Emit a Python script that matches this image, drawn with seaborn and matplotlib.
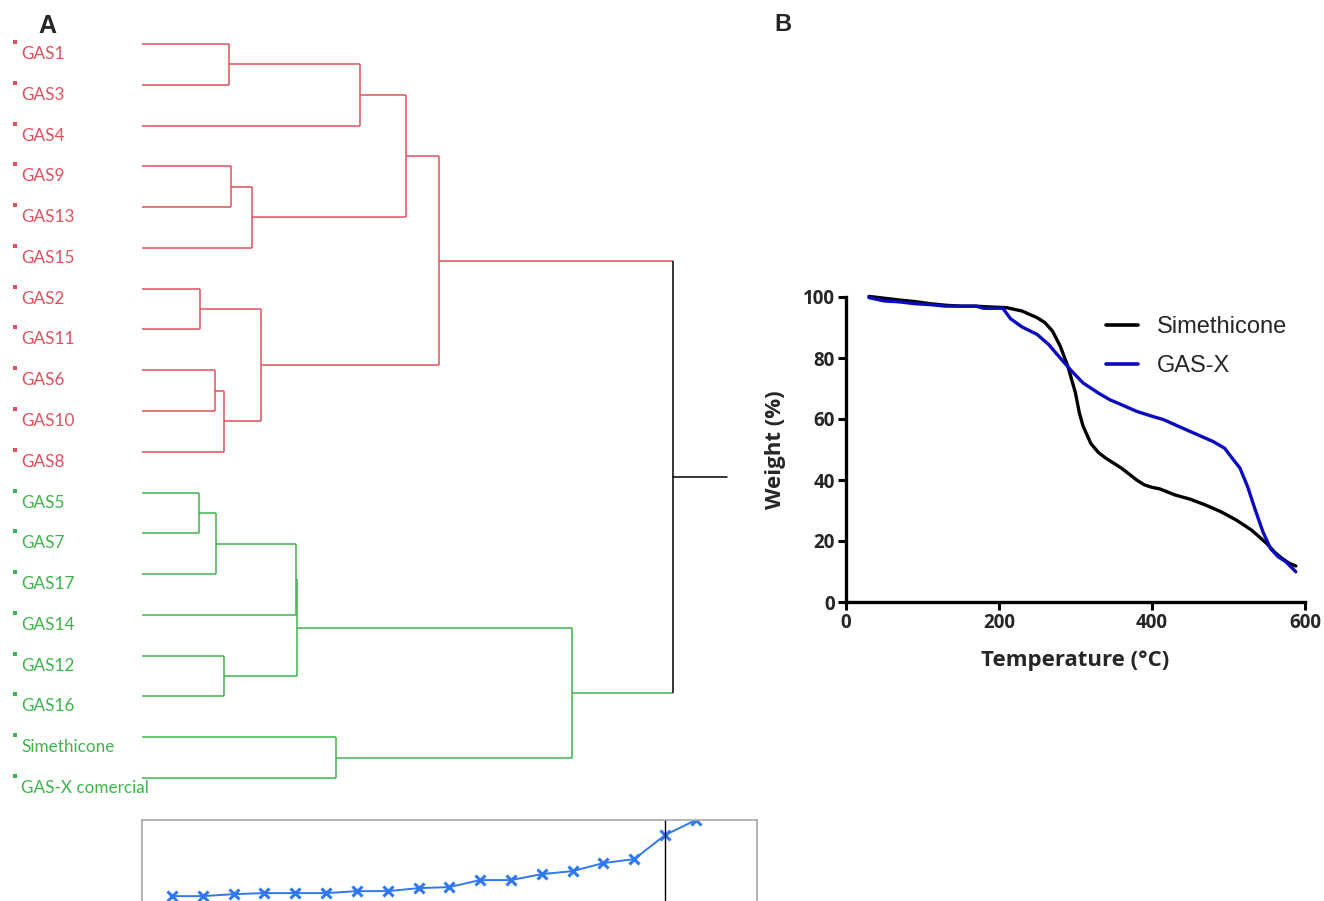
import matplotlib
matplotlib.use("Agg")
import matplotlib.pyplot as plt
import matplotlib.transforms as mtransforms
import numpy as np
import pandas as pd
import seaborn as sns

# ---------------- data ----------------
leaves = ["GAS1", "GAS3", "GAS4", "GAS9", "GAS13", "GAS15", "GAS2", "GAS11", "GAS6",
          "GAS10", "GAS8", "GAS5", "GAS7", "GAS17", "GAS14", "GAS12", "GAS16",
          "Simethicone", "GAS-X comercial"]
leaf_groups = ["red"] * 11 + ["green"] * 8

merge_ids = ["m1", "m2", "m3", "m4", "m5", "m6", "m7", "m8", "m9", "m10",
             "m11", "m12", "m13", "m14", "m15", "m16", "m17", "root"]
merge_left = ["GAS1", "m1", "GAS9", "m3", "m2", "GAS2", "GAS6", "m7", "m6", "m5",
              "GAS5", "m11", "m12", "GAS12", "m13", "Simethicone", "m15", "m10"]
merge_right = ["GAS3", "GAS4", "GAS13", "GAS15", "m4", "GAS11", "GAS10", "GAS8", "m8", "m9",
               "GAS7", "GAS17", "GAS14", "GAS16", "m14", "GAS-X comercial", "m16", "m17"]
merge_height = [16.4, 41.1, 16.8, 20.7, 49.7, 10.9, 13.7, 15.4, 22.4, 55.9,
                10.7, 13.9, 29.0, 15.4, 29.2, 36.5, 81.0, 100.0]
root_stem = 110.2

# level plot (inset)
level_step = list(range(1, 19))
level_value = [3.8, 3.8, 6.3, 7.6, 7.6, 7.6, 10.1, 10.1, 13.9, 15.2,
               24.1, 24.1, 31.6, 35.4, 45.6, 50.6, 81.0, 100.0]
cut_step = 17

# TGA curves
sim_T = [30, 50, 70, 90, 110, 130, 150, 170, 190, 210, 230, 250, 260, 270, 280, 290,
         300, 305, 310, 320, 330, 340, 360, 380, 390, 400, 410, 430, 450, 470, 490,
         510, 530, 550, 560, 570, 580, 588]
sim_W = [100.2, 99.6, 99.0, 98.5, 97.8, 97.3, 97.0, 97.0, 96.7, 96.5, 95.4, 93.2, 91.6,
         88.8, 83.9, 77.3, 68.5, 62.0, 57.6, 52.0, 49.0, 47.1, 43.9, 40.0, 38.4, 37.6,
         37.1, 35.1, 33.7, 31.8, 29.6, 26.9, 23.6, 19.2, 16.4, 14.3, 12.6, 11.8]
gas_T = [30, 50, 70, 90, 110, 130, 170, 180, 205, 215, 230, 250, 265, 280, 295, 310,
         330, 345, 360, 380, 400, 415, 440, 460, 480, 495, 505, 515, 525, 535, 545,
         555, 565, 575, 588]
gas_W = [99.8, 98.7, 98.4, 97.8, 97.5, 97.0, 97.0, 96.3, 96.3, 92.9, 90.2, 87.7, 84.4,
         80.0, 75.7, 71.8, 68.5, 66.3, 64.7, 62.5, 60.9, 59.8, 57.0, 54.8, 52.6, 50.4,
         47.1, 43.9, 37.8, 30.2, 23.0, 17.5, 14.8, 13.2, 9.9]

xticks_B = [0, 200, 400, 600]
yticks_B = [0, 20, 40, 60, 80, 100]

# ---------------- style ----------------
sns.set_style("white")
plt.rcParams["font.family"] = ["Liberation Sans", "DejaVu Sans"]

RED = "#E0515F"
GREEN = "#3DB54A"
COL = {"red": RED, "green": GREEN, "black": "black"}

W, H = 1324, 901
fig = plt.figure(figsize=(W / 100, H / 100), dpi=100)

# ---------------- dendrogram ----------------
axd = fig.add_axes([142 / W, 1 - 798 / H, 598 / W, 774 / H])
axd.set_xlim(0, 112.6)
axd.set_ylim(18.49, -0.49)
axd.axis("off")

pos = {}
col = {}
for i, (name, g) in enumerate(zip(leaves, leaf_groups)):
    pos[name] = (0.0, float(i))
    col[name] = g
for mid, l, r, h in zip(merge_ids, merge_left, merge_right, merge_height):
    yl, yr = pos[l][1], pos[r][1]
    c = col[l] if col[l] == col[r] else "black"
    if mid == "root":
        c = "black"
    for child in (l, r):
        axd.plot([pos[child][0], h], [pos[child][1]] * 2, color=COL[col[child]], lw=1.1,
                 solid_capstyle="butt")
    axd.plot([h, h], [yl, yr], color=COL[c], lw=1.1, solid_capstyle="butt")
    pos[mid] = (h, (yl + yr) / 2)
    col[mid] = c
axd.plot([pos["root"][0], root_stem], [pos["root"][1]] * 2, color="black", lw=1.1)

# leaf labels
blend = mtransforms.blended_transform_factory(fig.transFigure, axd.transData)
for i, (name, g) in enumerate(zip(leaves, leaf_groups)):
    axd.annotate(name, xy=(21 / W, i), xycoords=blend, xytext=(0, -10.8),
                 textcoords="offset points", va="baseline", ha="left",
                 color=COL[g], fontsize=12.3,
                 family=["Lato", "Liberation Sans", "DejaVu Sans"],
                 annotation_clip=False)
    axd.plot([14.5 / W], [i - 0.05], marker="s", ms=3.2, color=COL[g], transform=blend,
             clip_on=False, mew=0)

# ---------------- level inset ----------------
axi = fig.add_axes([142 / W, 1 - 911 / H, 615 / W, 91 / H])
lev = pd.DataFrame({"step": level_step, "value": level_value})
sns.lineplot(data=lev, x="step", y="value", ax=axi, color="#2F78F2", lw=1.4,
             marker="x", markersize=7, markeredgewidth=2.2, markeredgecolor="#2F78F2",
             clip_on=True)
axi.axvline(cut_step, color="black", lw=1.0)
axi.set_xlim(0.03, 19.98)
axi.set_ylim(-15, 100)
axi.set_xticks([])
axi.set_yticks([])
axi.set_xlabel("")
axi.set_ylabel("")
for s in axi.spines.values():
    s.set_color("#A8A8A8")
    s.set_linewidth(1.2)
    s.set_visible(True)

# ---------------- panel B ----------------
axb = fig.add_axes([846 / W, 1 - 602 / H, 459 / W, 305 / H])
tga = pd.concat([
    pd.DataFrame({"T": sim_T, "W": sim_W, "Sample": "Simethicone"}),
    pd.DataFrame({"T": gas_T, "W": gas_W, "Sample": "GAS-X"}),
])
sns.lineplot(data=tga, x="T", y="W", hue="Sample", sort=False, estimator=None,
             palette={"Simethicone": "black", "GAS-X": "#0C0CBE"}, lw=2.4, ax=axb,
             clip_on=False)
axb.set_xlim(0, 600)
axb.set_ylim(0, 100)
axb.set_xticks(xticks_B)
axb.set_yticks(yticks_B)
sns.despine(ax=axb)
for s in ("left", "bottom"):
    axb.spines[s].set_linewidth(2.4)
    axb.spines[s].set_color("black")
axb.tick_params(axis="both", direction="out", length=6, width=2.2, color="black",
                pad=2, bottom=True, left=True)
bold_font = ["Open Sans", "DejaVu Sans"]
for lab in axb.get_xticklabels() + axb.get_yticklabels():
    lab.set_family(bold_font)
    lab.set_fontweight("bold")
    lab.set_fontsize(13.5)
axb.set_xlabel("Temperature (°C)", family=bold_font, fontweight="bold", fontsize=16,
               labelpad=12)
axb.set_ylabel("Weight (%)", family=bold_font, fontweight="bold", fontsize=16,
               labelpad=12)
leg = axb.legend(loc="upper left", bbox_to_anchor=(0.566, 0.937), frameon=False,
                 fontsize=17, handlelength=1.35, handletextpad=0.8, labelspacing=0.72,
                 borderaxespad=0, borderpad=0)
for line in leg.get_lines():
    line.set_linewidth(2.6)

# panel letters
fig.text(38 / W, 1 - 33 / H, "A", fontsize=18, fontweight="bold", family=["Liberation Sans"])
fig.text(774 / W, 1 - 31 / H, "B", fontsize=17, fontweight="bold", family=["Liberation Sans"])

fig.savefig("out.png", dpi=100)
